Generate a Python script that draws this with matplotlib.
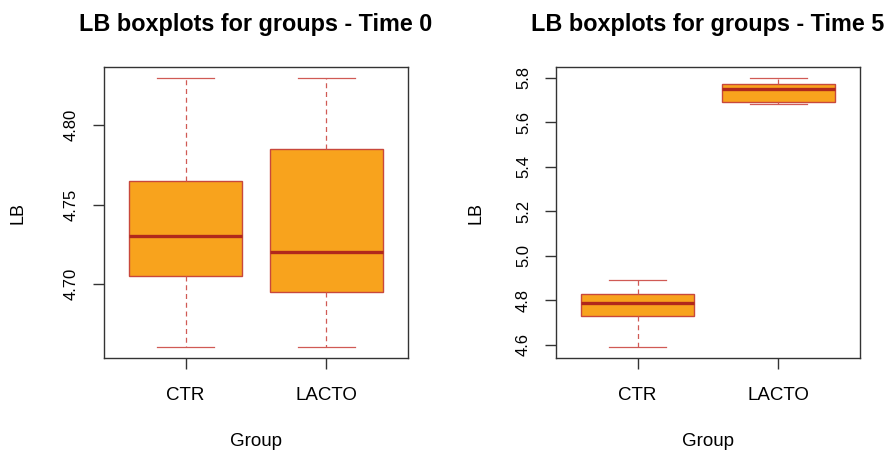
"""Recreate the LB boxplots (Time 0 / Time 5) in R base-graphics style."""

import matplotlib
matplotlib.use("Agg")
import matplotlib.pyplot as plt

plt.rcParams["font.family"] = ["Liberation Sans", "DejaVu Sans"]

groups = ["CTR", "LACTO"]

# five-number summaries: whislo, q1, med, q3, whishi
time0_stats = [
    (4.66, 4.705, 4.73, 4.765, 4.83),
    (4.66, 4.695, 4.72, 4.785, 4.83),
]
time5_stats = [
    (4.59, 4.73, 4.79, 4.83, 4.89),
    (5.68, 5.69, 5.75, 5.77, 5.80),
]
time0_ticks = [4.70, 4.75, 4.80]
time0_ticklabels = ["4.70", "4.75", "4.80"]
time5_ticks = [4.6, 4.8, 5.0, 5.2, 5.4, 5.6, 5.8]
time5_ticklabels = ["4.6", "4.8", "5.0", "5.2", "5.4", "5.6", "5.8"]

FILL = "#F8A31D"
EDGE = "#C8483C"
MEDIAN = "#B0281C"
WHISK = "#D05A55"
AXC = "#333333"


def draw_panel(ax, stats, ticks, ticklabels, title, ylabelpad):
    bxp_stats = [
        dict(whislo=s[0], q1=s[1], med=s[2], q3=s[3], whishi=s[4], label=g)
        for s, g in zip(stats, groups)
    ]
    ax.bxp(
        bxp_stats,
        positions=[1, 2],
        widths=0.8,
        patch_artist=True,
        showfliers=False,
        boxprops=dict(facecolor=FILL, edgecolor=EDGE, linewidth=1.0),
        medianprops=dict(color=MEDIAN, linewidth=2.4, solid_capstyle="butt"),
        whiskerprops=dict(color=WHISK, linewidth=0.9, linestyle=(0, (4, 3))),
        capprops=dict(color=WHISK, linewidth=0.9),
        capwidths=0.4,
    )
    lo = min(s[0] for s in stats)
    hi = max(s[4] for s in stats)
    pad = (hi - lo) * 0.04
    ax.set_ylim(lo - pad, hi + pad)
    ax.set_xlim(0.42, 2.58)

    ax.set_yticks(ticks)
    ax.set_yticklabels(ticklabels, rotation=90, va="center")
    ax.set_xticks([1, 2])
    ax.set_xticklabels(groups)
    ax.tick_params(axis="both", direction="out", length=8, width=1.0,
                   color=AXC)
    ax.tick_params(axis="x", labelsize=13.5, pad=13)
    ax.tick_params(axis="y", labelsize=12, pad=10)
    for sp in ax.spines.values():
        sp.set_color(AXC)
        sp.set_linewidth(1.0)

    ax.set_ylabel("LB", fontsize=13, labelpad=ylabelpad)
    ax.set_xlabel("Group", fontsize=13.5, labelpad=21)
    ax.set_title(title, fontsize=16.8, fontweight="bold", pad=26)


fig = plt.figure(figsize=(8.89, 4.54), dpi=100)
ax1 = fig.add_axes([104 / 889, 1 - 358 / 454, 304 / 889, 291 / 454])
ax2 = fig.add_axes([556 / 889, 1 - 358 / 454, 304 / 889, 291 / 454])

draw_panel(ax1, time0_stats, time0_ticks, time0_ticklabels,
           "LB boxplots for groups - Time 0", 27)
draw_panel(ax2, time5_stats, time5_ticks, time5_ticklabels,
           "LB boxplots for groups - Time 5", 23)

fig.savefig("out.png", dpi=100, facecolor="white")
